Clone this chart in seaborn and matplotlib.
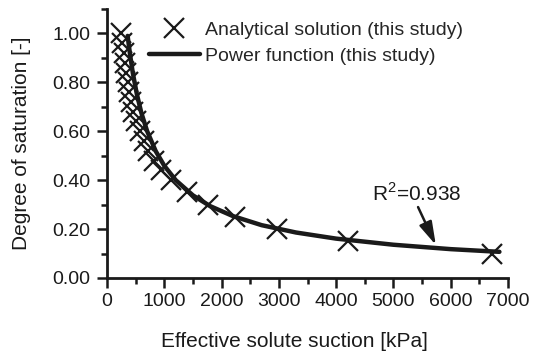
import matplotlib
matplotlib.use('Agg')
import matplotlib.pyplot as plt
from matplotlib.ticker import MultipleLocator
import seaborn as sns
import pandas as pd

# Analytical solution points
suction_analytical = [250, 270, 290, 310, 335, 360, 390, 420, 460, 510, 570,
                      640, 720, 820, 950, 1120, 1390, 1760, 2230, 2970, 4210, 6720]
saturation_analytical = [1.00, 0.96, 0.92, 0.88, 0.84, 0.80, 0.76, 0.72, 0.68, 0.64, 0.60,
                         0.56, 0.52, 0.48, 0.44, 0.40, 0.35, 0.30, 0.25, 0.20, 0.15, 0.10]

# Power function curve
suction_power = [360, 400, 450, 520, 600, 700, 850, 1000, 1200, 1500, 1800,
                 2200, 2700, 3300, 4000, 5000, 6000, 6850]
saturation_power = [0.990, 0.918, 0.839, 0.753, 0.675, 0.601, 0.519, 0.459, 0.400, 0.338, 0.294,
                    0.253, 0.216, 0.186, 0.161, 0.136, 0.118, 0.107]

r2_text = 'R$^2$=0.938'

sns.set_style('ticks')
plt.rcParams['font.family'] = ['Liberation Sans', 'DejaVu Sans']
plt.rcParams['mathtext.fontset'] = 'custom'
plt.rcParams['mathtext.rm'] = 'Liberation Sans'

df_a = pd.DataFrame({'x': suction_analytical, 'y': saturation_analytical})
df_p = pd.DataFrame({'x': suction_power, 'y': saturation_power})

ink = '#1a1a1a'

fig = plt.figure(figsize=(5.46, 3.59), dpi=100)
ax = fig.add_axes([107 / 546, 1 - 278 / 359, 401 / 546, 269 / 359])

sns.lineplot(data=df_p, x='x', y='y', ax=ax, color=ink, linewidth=3.2,
             label='Power function (this study)', sort=False, zorder=2)
ax.plot(df_a['x'], df_a['y'], linestyle='none', marker='x', markersize=14,
        markeredgewidth=1.6, color=ink, label='Analytical solution (this study)', zorder=3)

ax.set_xlim(0, 7000)
ax.set_ylim(0, 1.1)
ax.xaxis.set_major_locator(MultipleLocator(1000))
ax.xaxis.set_minor_locator(MultipleLocator(500))
ax.yaxis.set_minor_locator(MultipleLocator(0.1))
ax.set_yticks([0, 0.2, 0.4, 0.6, 0.8, 1.0])
ax.set_yticklabels(['0.00', '0.20', '0.40', '0.60', '0.80', '1.00'])

for s in ['top', 'right']:
    ax.spines[s].set_visible(False)
for s in ['left', 'bottom']:
    ax.spines[s].set_linewidth(2.0)
    ax.spines[s].set_color(ink)

ax.tick_params(which='major', length=7, width=1.8, color=ink, labelsize=14,
               labelcolor=ink, pad=4)
ax.tick_params(which='minor', length=4, width=1.8, color=ink)
ax.tick_params(axis='y', which='major', pad=5)

ax.set_xlabel('Effective solute suction [kPa]', fontsize=15, color=ink)
ax.set_ylabel('Degree of saturation [-]', fontsize=15, color=ink)
ax.xaxis.set_label_coords((294 - 107) / 401, -0.2)
ax.yaxis.set_label_coords(-0.19, 0.5)

handles, labels = ax.get_legend_handles_labels()
order = [labels.index('Analytical solution (this study)'), labels.index('Power function (this study)')]
ax.legend([handles[i] for i in order], [labels[i] for i in order],
          loc='upper left', bbox_to_anchor=(0.105, 0.955), frameon=False,
          fontsize=14, handlelength=2.6, handletextpad=0.3, labelspacing=0.45,
          borderpad=0, borderaxespad=0)

ax.text(5400, 0.347, r2_text, fontsize=15, color=ink, ha='center', va='center')
ax.annotate('', xy=(5740, 0.135), xytext=(5430, 0.29),
            arrowprops=dict(arrowstyle='-|>,head_length=1.4,head_width=0.4',
                            color=ink, lw=1.8, shrinkA=0, shrinkB=0))

fig.savefig('out.png', dpi=100)
